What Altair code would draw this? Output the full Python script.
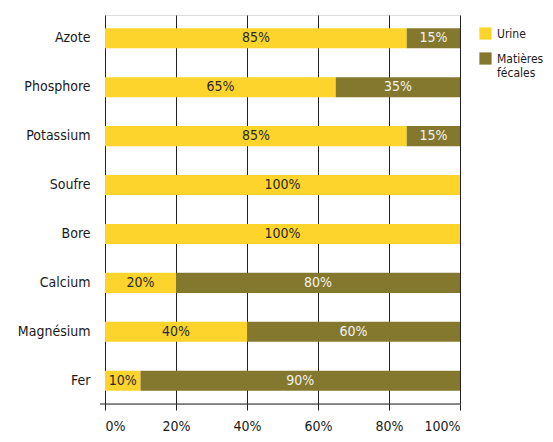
import altair as alt
import pandas as pd

categories = ["Azote", "Phosphore", "Potassium", "Soufre", "Bore", "Calcium", "Magnésium", "Fer"]
urine = [85, 65, 85, 100, 100, 20, 40, 10]
feces = [15, 35, 15, 0, 0, 80, 60, 90]
series = ["Urine", "Matières fécales"]
colors = ["#FDD42B", "#84782E"]
text_colors = ["#2a2a2a", "#f2f2f2"]
x_ticks = [0, 20, 40, 60, 80, 100]

FONT = "'Liberation Sans Narrow', 'DejaVu Sans Condensed', 'Roboto Condensed', sans-serif"

rows = []
for i, c in enumerate(categories):
    rows.append({"cat": c, "serie": series[0], "val": urine[i], "ord": 0})
    rows.append({"cat": c, "serie": series[1], "val": feces[i], "ord": 1})
df = pd.DataFrame(rows)

W, H = 355, 389

base = alt.Chart(df).transform_stack(
    stack="val", groupby=["cat"], as_=["x0", "x1"], sort=[alt.SortField("ord")]
).transform_calculate(
    mid="(datum.x0 + datum.x1) / 2",
    lab="datum.val + '%'"
)

yenc = alt.Y("cat:N", sort=categories, title=None,
             scale=alt.Scale(paddingInner=0.59, paddingOuter=0.27),
             axis=alt.Axis(domain=False, ticks=False, labelPadding=15,
                           labelFontSize=14, labelColor="#1a1a1a", labelFont=FONT))

xscale = alt.Scale(domain=[0, 100], nice=False)

bars = base.mark_bar().encode(
    x=alt.X("x0:Q", scale=xscale, title=None,
            axis=alt.Axis(values=x_ticks, labelExpr="datum.value + '%'", grid=True,
                          gridColor="#222", gridOpacity=1, gridWidth=1,
                          domain=False, tickColor="#222", tickSize=6,
                          labelFontSize=14, labelColor="#1a1a1a", labelFont=FONT,
                          labelPadding=9)),
    x2="x1:Q",
    y=yenc,
    color=alt.Color("serie:N", scale=alt.Scale(domain=series, range=colors),
                    legend=alt.Legend(title=None, orient="none", legendX=374, legendY=12,
                                      symbolType="square", symbolSize=150,
                                      symbolStrokeWidth=0, labelFontSize=12,
                                      labelFont=FONT, labelColor="#1a1a1a",
                                      rowPadding=12, labelOffset=5,
                                      labelExpr="datum.label == 'Matières fécales' ? ['Matières', 'fécales'] : datum.label")),
    order=alt.Order("ord:Q"),
)

texts = base.transform_filter("datum.val > 0").mark_text(
    fontSize=14, font=FONT, baseline="middle", align="center"
).encode(
    x=alt.X("mid:Q", scale=xscale),
    y=alt.Y("cat:N", sort=categories),
    text="lab:N",
    color=alt.Color("serie:N", scale=alt.Scale(domain=series, range=text_colors), legend=None),
)

axis_line = alt.Chart(pd.DataFrame({"a": [0]})).mark_rule(color="#222", strokeWidth=1).encode(
    x=alt.value(-5), x2=alt.value(W), y=alt.value(H)
)

chart = alt.layer(bars, texts, axis_line).resolve_scale(color="independent").properties(
    width=W, height=H,
    autosize=alt.AutoSizeParams(type="none"),
    padding={"left": 97, "top": 7, "right": 85, "bottom": 30},
).configure_view(stroke=None).configure(font=FONT)

chart.save("out.html", embed_options={"renderer": "svg", "actions": False})
